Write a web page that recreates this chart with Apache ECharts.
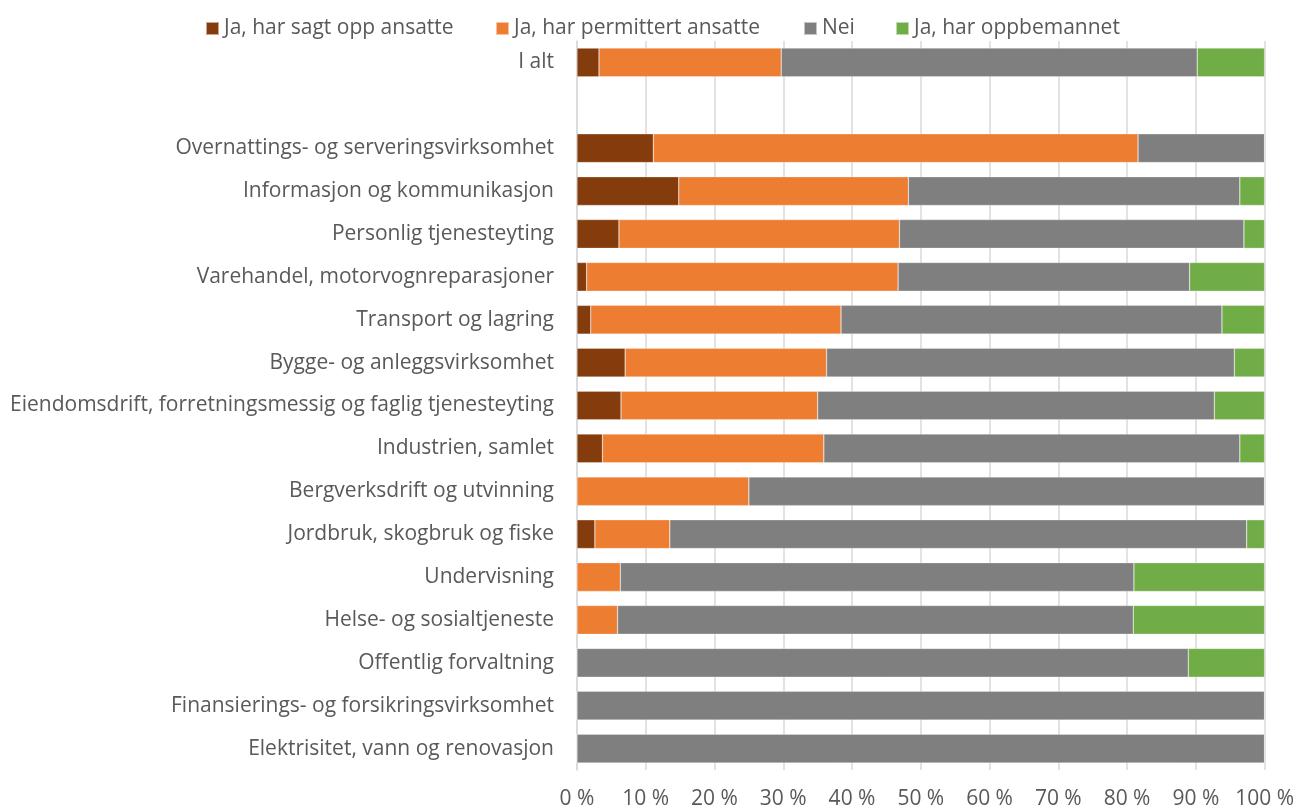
<!DOCTYPE html>
<html>
<head>
<meta charset="utf-8">
<title>Nedbemanning og permitteringer etter næring</title>
<script src="https://cdn.jsdelivr.net/npm/echarts@6/dist/echarts.min.js"></script>
<style>
  html, body { margin: 0; padding: 0; background: #fff; }
  #chart { width: 1297px; height: 810px; }
</style>
</head>
<body>
<div id="chart"></div>
<script>
// Næringer, ovenfra og ned (tom rad skiller totalen fra næringene)
const categories = [
  'I alt',
  '',
  'Overnattings- og serveringsvirksomhet',
  'Informasjon og kommunikasjon',
  'Personlig tjenesteyting',
  'Varehandel, motorvognreparasjoner',
  'Transport og lagring',
  'Bygge- og anleggsvirksomhet',
  'Eiendomsdrift, forretningsmessig og faglig tjenesteyting',
  'Industrien, samlet',
  'Bergverksdrift og utvinning',
  'Jordbruk, skogbruk og fiske',
  'Undervisning',
  'Helse- og sosialtjeneste',
  'Offentlig forvaltning',
  'Finansierings- og forsikringsvirksomhet',
  'Elektrisitet, vann og renovasjon'
];

// Andel virksomheter (prosent) per svar
const sagtOpp     = [3.2, null, 11.1, 14.8, 6.1, 1.4, 2.0, 7.0, 6.4, 3.7, 0, 2.6, 0, 0, 0, 0, 0];
const permittert  = [26.5, null, 70.5, 33.4, 40.8, 45.3, 36.4, 29.3, 28.6, 32.2, 25.0, 10.9, 6.3, 5.9, 0, 0, 0];
const nei         = [60.5, null, 18.4, 48.2, 50.1, 42.4, 55.4, 59.3, 57.7, 60.5, 75.0, 83.9, 74.7, 75.0, 88.9, 100, 100];
const oppbemannet = [9.8, null, 0, 3.6, 3.0, 10.9, 6.2, 4.4, 7.3, 3.6, 0, 2.6, 19.0, 19.1, 11.1, 0, 0];

const seriesNames = ['Ja, har sagt opp ansatte', 'Ja, har permittert ansatte', 'Nei', 'Ja, har oppbemannet'];
const xTicks = { min: 0, max: 100, step: 10 };

const colors = ['#843C0C', '#ED7D31', '#7F7F7F', '#70AD47'];
const font = '"Open Sans", "Noto Sans", sans-serif';
const textColor = '#595959';
const fontSize = 21;
// venstre kant for hver forklaringsrute
const legendLeft = [200, 490, 798, 890];

const chart = echarts.init(document.getElementById('chart'), null, { renderer: 'canvas' });

const values = [sagtOpp, permittert, nei, oppbemannet];
const series = seriesNames.map((name, i) => ({
  name,
  type: 'bar',
  stack: 'andel',
  barCategoryGap: '33%',
  data: values[i],
  itemStyle: { color: colors[i], borderColor: 'rgba(255,255,255,0.55)', borderWidth: 0.5 },
  emphasis: { disabled: true }
}));

const legends = seriesNames.map((name, i) => ({
  top: 13,
  left: legendLeft[i],
  itemWidth: 13,
  itemHeight: 13,
  icon: 'rect',
  selectedMode: false,
  textStyle: { fontFamily: font, fontSize: fontSize, color: textColor },
  data: [name]
}));

chart.setOption({
  animation: false,
  color: colors,
  textStyle: { fontFamily: font },
  legend: legends,
  grid: { left: 577, right: 32, top: 41, bottom: 40, containLabel: false },
  xAxis: {
    type: 'value',
    min: xTicks.min,
    max: xTicks.max,
    interval: xTicks.step,
    axisLine: { show: false },
    axisTick: { show: false },
    axisLabel: {
      formatter: '{value} %',
      fontFamily: font,
      fontSize: fontSize,
      color: textColor,
      margin: 19
    },
    splitLine: { show: true, lineStyle: { color: '#D9D9D9', width: 1.5 } }
  },
  yAxis: {
    type: 'category',
    inverse: true,
    data: categories,
    axisLine: { show: true, lineStyle: { color: '#D9D9D9', width: 1.5 } },
    axisTick: { show: false },
    axisLabel: {
      fontFamily: font,
      fontSize: fontSize,
      color: textColor,
      margin: 23
    }
  },
  series
});
</script>
</body>
</html>
